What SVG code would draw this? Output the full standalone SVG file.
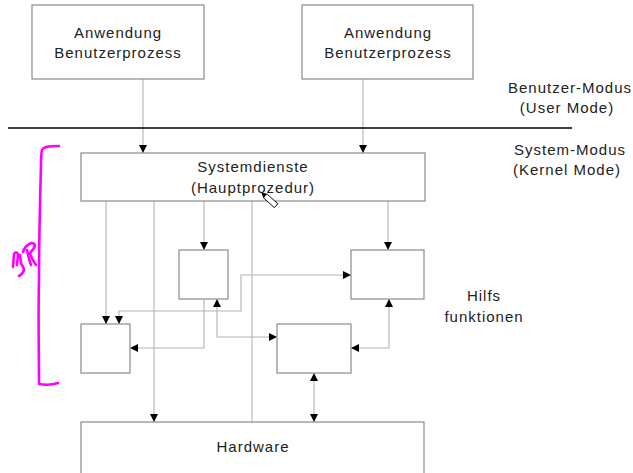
<svg xmlns="http://www.w3.org/2000/svg" width="633" height="473" viewBox="0 0 633 473">
<style>
.box{fill:#fff;stroke:#8a8a8a;stroke-width:1.2}
.lbl{font-family:"Liberation Sans",Arial,sans-serif;font-size:15px;letter-spacing:1px;fill:#222;text-anchor:middle}
.con{fill:none;stroke:#b4b4b4;stroke-width:1.1}
.ink{fill:none;stroke:#ff00ff;stroke-width:2.6;stroke-linecap:round;stroke-linejoin:round}
</style>
<defs>
<marker id="arr" viewBox="0 0 8 8" refX="8" refY="4" markerWidth="8" markerHeight="8" markerUnits="userSpaceOnUse" orient="auto-start-reverse">
<path d="M0,0 L8,4 L0,8 z" fill="#000"/>
</marker>
</defs>
<rect width="633" height="473" fill="#fff"/>

<g id="connectors">
<line class="con" x1="143" y1="79" x2="143" y2="153" marker-end="url(#arr)"/>
<line class="con" x1="363" y1="79" x2="363" y2="153" marker-end="url(#arr)"/>
<line class="con" x1="106" y1="201" x2="106" y2="324" marker-end="url(#arr)"/>
<line class="con" x1="154" y1="201" x2="154" y2="422" marker-end="url(#arr)"/>
<line class="con" x1="204" y1="201" x2="204" y2="250" marker-end="url(#arr)"/>
<line class="con" x1="252" y1="201" x2="252" y2="422"/>
<line class="con" x1="388" y1="201" x2="388" y2="250" marker-end="url(#arr)"/>
<polyline class="con" points="204,299 204,348 130,348" marker-end="url(#arr)"/>
<polyline class="con" points="119,324 119,311 241,311 241,275 351,275" marker-start="url(#arr)" marker-end="url(#arr)"/>
<polyline class="con" points="217,299 217,337 277,337" marker-start="url(#arr)" marker-end="url(#arr)"/>
<polyline class="con" points="389,299 389,348 351,348" marker-start="url(#arr)" marker-end="url(#arr)"/>
<line class="con" x1="314" y1="373" x2="314" y2="422" marker-start="url(#arr)" marker-end="url(#arr)"/>
</g>

<line x1="8" y1="128" x2="572" y2="128" stroke="#000" stroke-width="1.3"/>

<g id="app1">
<rect class="box" x="32" y="5" width="172" height="74"/>
<text class="lbl" x="118" y="38">Anwendung</text>
<text class="lbl" x="118" y="58">Benutzerprozess</text>
</g>
<g id="app2">
<rect class="box" x="302" y="5" width="171" height="74"/>
<text class="lbl" x="388" y="38">Anwendung</text>
<text class="lbl" x="388" y="58">Benutzerprozess</text>
</g>
<g id="systemdienste">
<rect class="box" x="81" y="153" width="344" height="48"/>
<text class="lbl" x="253" y="172">Systemdienste</text>
<text class="lbl" x="253" y="193">(Hauptprozedur)</text>
</g>
<g id="hilfA"><rect class="box" x="81" y="324" width="49" height="49"/></g>
<g id="hilfB"><rect class="box" x="179" y="250" width="49" height="49"/></g>
<g id="hilfC"><rect class="box" x="351" y="250" width="73" height="49"/></g>
<g id="hilfD"><rect class="box" x="277" y="324" width="74" height="49"/></g>
<g id="hardware">
<rect class="box" x="81" y="422" width="343" height="70"/>
<text class="lbl" x="253" y="452">Hardware</text>
</g>

<g id="labels">
<text class="lbl" x="570" y="93">Benutzer-Modus</text>
<text class="lbl" x="567" y="113">(User Mode)</text>
<text class="lbl" x="570" y="155">System-Modus</text>
<text class="lbl" x="567" y="175">(Kernel Mode)</text>
<text class="lbl" x="484" y="301">Hilfs</text>
<text class="lbl" x="484" y="322">funktionen</text>
</g>

<g id="annotation">
<path class="ink" d="M59,146 C52,146 44,146 42,150 C41,154 41,158 41,165 C40,200 39,240 39,280 C38,320 39,350 39,384 C45,385 52,385 58,383"/>
<path class="ink" d="M13,267 L14,254 C15,252 17,252 18,254 L17,265"/>
<path class="ink" d="M20,255 L21,263 C22,266 24,267 24,270 C23,273 21,275 19,276"/>
<path class="ink" d="M23,252 C24,248 27,245 31,243 C33,243 35,244 35,246 C34,249 32,251 30,253 C31,257 33,261 36,265"/>
<path class="ink" d="M27,250 C28,255 29,260 31,265"/>
</g>

<g id="cursor" transform="translate(262,193) rotate(42)">
<polygon points="0,0 5,-2.6 19,-2.6 19,2.6 5,2.6" fill="#fff" stroke="#000" stroke-width="0.9"/>
<polygon points="0,0 4.5,-2.3 4.5,2.3" fill="#000"/>
</g>
</svg>
